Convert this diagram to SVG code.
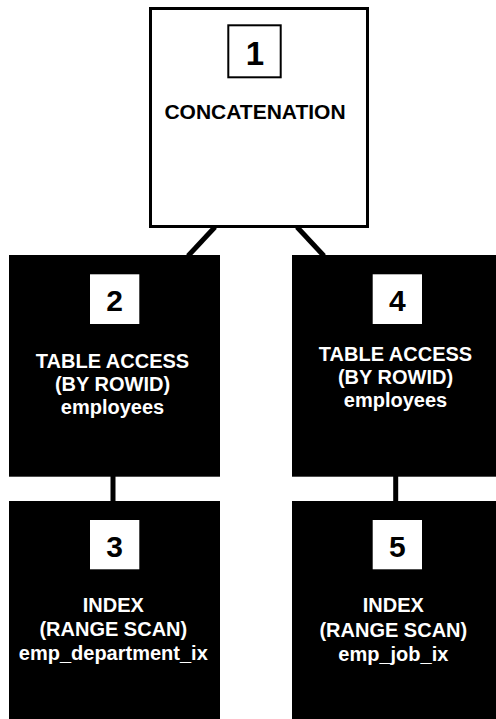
<svg xmlns="http://www.w3.org/2000/svg" width="496" height="719" viewBox="0 0 496 719">
<style>
.txt{font-family:"Liberation Sans",Arial,sans-serif;font-weight:bold;text-anchor:middle}
.lbl{font-size:20px}
.num{font-size:30px;fill:#000}
.dark{fill:#000}
.nbox{fill:#fff}
.wt{fill:#fff}
.conn{stroke:#000;stroke-width:5;fill:none}
</style>
<rect width="496" height="719" fill="#fff"/>
<g id="connectors">
<line class="conn" x1="215" y1="227" x2="188" y2="256"/>
<line class="conn" x1="297" y1="227" x2="324" y2="256"/>
<line class="conn" x1="113" y1="476" x2="113" y2="502"/>
<line class="conn" x1="395.7" y1="476" x2="395.7" y2="502"/>
</g>
<g id="node1">
<rect x="150.5" y="8.5" width="217" height="218" fill="#fff" stroke="#000" stroke-width="3"/>
<rect x="228.3" y="25.3" width="52.4" height="52" fill="#fff" stroke="#000" stroke-width="2"/>
<text class="txt" x="255" y="65" font-size="33">1</text>
<text class="txt" x="255" y="119" font-size="21">CONCATENATION</text>
</g>
<g id="node2">
<rect class="dark" x="9" y="255" width="211" height="221.7"/>
<rect class="nbox" x="90" y="274.3" width="49.3" height="49.7"/>
<text class="txt num" x="114.5" y="310.7">2</text>
<text class="txt lbl wt" x="112.5" y="368">TABLE ACCESS</text>
<text class="txt lbl wt" x="112.5" y="391">(BY ROWID)</text>
<text class="txt lbl wt" x="112.5" y="414">employees</text>
</g>
<g id="node3">
<rect class="dark" x="9" y="501" width="211" height="221"/>
<rect class="nbox" x="90" y="520" width="49.3" height="49.3"/>
<text class="txt num" x="114.5" y="556.7">3</text>
<text class="txt lbl wt" x="113.3" y="612">INDEX</text>
<text class="txt lbl wt" x="113.3" y="636">(RANGE SCAN)</text>
<text class="txt lbl wt" x="113.3" y="660">emp_department_ix</text>
</g>
<g id="node4">
<rect class="dark" x="292" y="255" width="211" height="221.7"/>
<rect class="nbox" x="372.7" y="274.3" width="49.3" height="49.7"/>
<text class="txt num" x="397.3" y="311">4</text>
<text class="txt lbl wt" x="395.5" y="361">TABLE ACCESS</text>
<text class="txt lbl wt" x="395.5" y="384">(BY ROWID)</text>
<text class="txt lbl wt" x="395.5" y="407">employees</text>
</g>
<g id="node5">
<rect class="dark" x="292" y="501" width="211" height="221"/>
<rect class="nbox" x="372.7" y="520" width="49.3" height="49.3"/>
<text class="txt num" x="397.3" y="556.7">5</text>
<text class="txt lbl wt" x="393.3" y="612">INDEX</text>
<text class="txt lbl wt" x="393.3" y="637">(RANGE SCAN)</text>
<text class="txt lbl wt" x="393.3" y="661">emp_job_ix</text>
</g>
</svg>
